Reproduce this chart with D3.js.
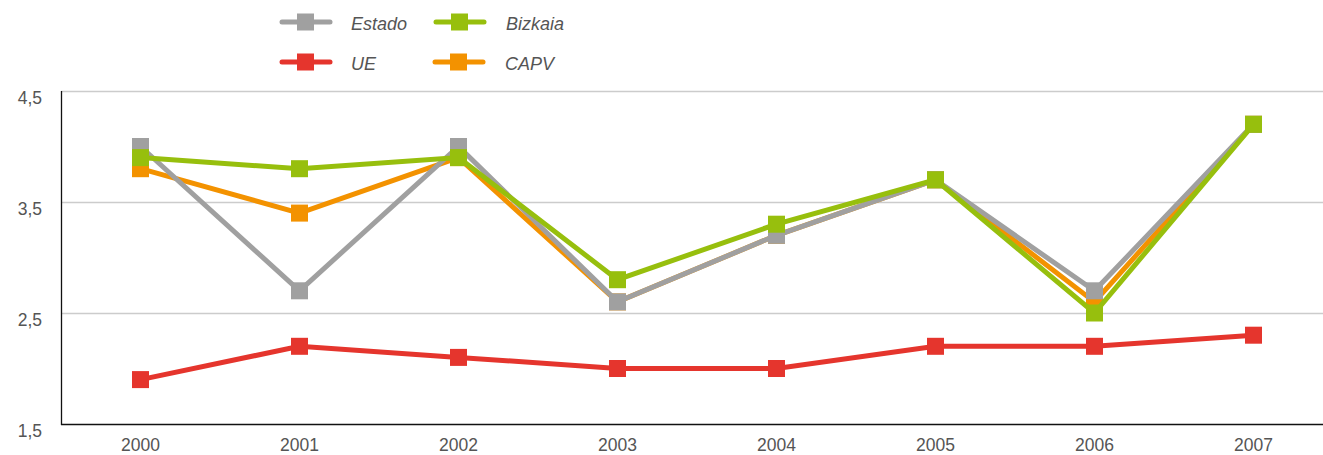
<!DOCTYPE html>
<html lang="es">
<head>
  <meta charset="UTF-8">
  <title></title>
  <style>
    html, body {
      margin: 0;
      overflow: hidden;
      width: 100%;
      height: 100%;
      background: #fff;
    }
    svg {
      position: absolute;
      top: 0;
      left: 0;
      font-family: "Liberation Sans", Arial, sans-serif;
    }
  </style>
</head>
<body>
  <svg width="1323" height="455"></svg>
</body>
<script src="https://d3js.org/d3.v7.min.js"></script>
<script type="text/javascript">
  const years = ['2000', '2001', '2002', '2003', '2004', '2005', '2006', '2007']
  const estado = [4.0, 2.7, 4.0, 2.6, 3.2, 3.7, 2.7, 4.2]
  const bizkaia = [3.9, 3.8, 3.9, 2.8, 3.3, 3.7, 2.5, 4.2]
  const ue = [1.9, 2.2, 2.1, 2.0, 2.0, 2.2, 2.2, 2.3]
  const capv = [3.8, 3.4, 3.9, 2.6, 3.2, 3.7, 2.6, 4.2]
  const yTicks = [1.5, 2.5, 3.5, 4.5]

  // drawing order: orange under, red on top
  const series = [
    { name: 'CAPV', values: capv, color: '#f39200' },
    { name: 'Estado', values: estado, color: '#a0a0a0' },
    { name: 'Bizkaia', values: bizkaia, color: '#97bf0d' },
    { name: 'UE', values: ue, color: '#e5352d' }
  ]

  const svg = d3.select('svg')
  const plotLeft = 61, plotRight = 1333, plotTop = 91, plotBottom = 424

  const x = d3.scaleBand().domain(years).range([plotLeft, plotRight])
  const y = d3.scaleLinear().domain([1.5, 4.5]).range([plotBottom, plotTop])
  const cx = d => x(d) + x.bandwidth() / 2

  // gridlines
  svg.selectAll('.grid')
    .data(yTicks.filter(t => t > 1.5))
    .enter()
    .append('line')
    .attr('x1', plotLeft)
    .attr('x2', 1323)
    .attr('y1', d => y(d) + 0.5)
    .attr('y2', d => y(d) + 0.5)
    .attr('stroke', '#cccccc')
    .attr('stroke-width', 1.5)

  // axes lines
  svg.append('line')
    .attr('x1', plotLeft + 0.5).attr('x2', plotLeft + 0.5)
    .attr('y1', plotTop).attr('y2', plotBottom + 1)
    .attr('stroke', '#111').attr('stroke-width', 1.3)
  svg.append('line')
    .attr('x1', plotLeft).attr('x2', 1323)
    .attr('y1', plotBottom + 0.5).attr('y2', plotBottom + 0.5)
    .attr('stroke', '#111').attr('stroke-width', 1.3)

  // tick labels
  svg.selectAll('.ylab')
    .data(yTicks)
    .enter()
    .append('text')
    .attr('x', 42)
    .attr('y', d => y(d) + 12.5)
    .attr('text-anchor', 'end')
    .attr('font-size', 17.5)
    .attr('fill', '#555')
    .text(d => d3.format('.1f')(d).replace('.', ','))

  svg.selectAll('.xlab')
    .data(years)
    .enter()
    .append('text')
    .attr('x', d => cx(d))
    .attr('y', 451)
    .attr('text-anchor', 'middle')
    .attr('font-size', 17.5)
    .attr('fill', '#555')
    .text(d => d)

  const line = d3.line()
    .x((d, i) => cx(years[i]))
    .y(d => y(d))

  series.forEach(s => {
    const g = svg.append('g')
    g.append('path')
      .attr('d', line(s.values))
      .attr('fill', 'none')
      .attr('stroke', s.color)
      .attr('stroke-width', 5)
      .attr('stroke-linejoin', 'miter')
    g.selectAll('rect')
      .data(s.values)
      .enter()
      .append('rect')
      .attr('x', (d, i) => cx(years[i]) - 8.5)
      .attr('y', d => y(d) - 8.5)
      .attr('width', 17)
      .attr('height', 17)
      .attr('fill', s.color)
  })

  // legend
  const legend = [
    { name: 'Estado', color: '#a0a0a0', x: 280, y: 22, tx: 71 },
    { name: 'Bizkaia', color: '#97bf0d', x: 434, y: 22, tx: 72 },
    { name: 'UE', color: '#e5352d', x: 280, y: 62, tx: 71 },
    { name: 'CAPV', color: '#f39200', x: 433, y: 62, tx: 72 }
  ]
  const lg = svg.selectAll('.legend')
    .data(legend)
    .enter()
    .append('g')
    .attr('transform', d => `translate(${d.x},${d.y})`)
  lg.append('line')
    .attr('x1', 2).attr('x2', 50)
    .attr('stroke', d => d.color)
    .attr('stroke-width', 5)
    .attr('stroke-linecap', 'round')
  lg.append('rect')
    .attr('x', 17).attr('y', -8.5)
    .attr('width', 17).attr('height', 17)
    .attr('fill', d => d.color)
  lg.append('text')
    .attr('x', d => d.tx)
    .attr('y', 8)
    .attr('font-size', 18)
    .attr('font-style', 'italic')
    .attr('fill', '#555')
    .text(d => d.name)
</script>
</html>
